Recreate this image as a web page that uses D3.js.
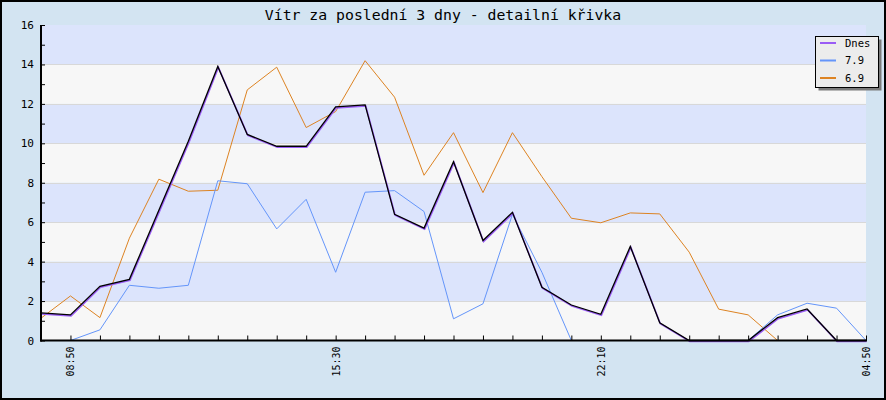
<!DOCTYPE html>
<html><head><meta charset="utf-8">
<script src="https://cdn.jsdelivr.net/npm/d3@7"></script>
<style>body{margin:0;background:#fff}svg{display:block}text{font-family:"DejaVu Sans Mono",monospace}</style>
</head><body>
<svg id="c" width="886" height="400"></svg>
<script>
const title = "Vítr za poslední 3 dny - detailní křivka";
const categories = d3.range(29);
const tickLabels = ["","08:50","","","","","","","","","15:30","","","","","","","","","22:10","","","","","","","","","04:50"];
const seriesNames = ["Dnes","7.9","6.9"];
const dnes = [1.4,1.3,2.75,3.1,6.6,10.1,13.9,10.45,9.85,9.85,11.85,11.95,6.4,5.7,9.07,5.07,6.5,2.7,1.8,1.33,4.77,0.9,0,0,0,1.16,1.6,0,0];
const d79  = [0,0,0.54,2.8,2.65,2.8,8.1,7.95,5.66,7.16,3.46,7.52,7.6,6.54,1.1,1.86,6.4,3.46,0,0,0,0,0,0,0,1.3,1.89,1.64,0];
const d69  = [1.13,2.26,1.16,5.19,8.18,7.57,7.62,12.71,13.86,10.8,11.61,14.19,12.34,8.38,10.54,7.5,10.54,8.31,6.2,5.97,6.47,6.42,4.48,1.59,1.3,0,0,0,0];
const yTicks = [0,2,4,6,8,10,12,14,16];

const W = 886, H = 400;
const L = 41, R = 866, T = 25, B = 340.5;
const svg = d3.select("#c");
svg.append("rect").attr("x",1).attr("y",1).attr("width",W-2).attr("height",H-2)
  .attr("fill","#d3e4f2").attr("stroke","#000").attr("stroke-width",2);

const x = d3.scaleLinear().domain([0, categories.length-1]).range([L, R]);
const y = d3.scaleLinear().domain([0, 16]).range([B, T]);

// bands
const bands = d3.range(0, 16, 2);
svg.append("g").selectAll("rect").data(bands).join("rect")
  .attr("x", L).attr("width", R - L)
  .attr("y", d => y(d + 2)).attr("height", d => y(d) - y(d + 2))
  .attr("fill", d => (d / 2) % 2 === 1 ? "#dce4fc" : "#f7f7f7");
svg.append("rect").attr("x",L).attr("width",R-L).attr("y",y(16)).attr("height",y(14)-y(16)).attr("fill","#dce4fc");
// grid
svg.append("g").selectAll("line").data(yTicks.filter(d => d > 0 && d < 16)).join("line")
  .attr("x1", L).attr("x2", R).attr("y1", d => Math.round(y(d)) + 0.5).attr("y2", d => Math.round(y(d)) + 0.5)
  .attr("stroke", "#d8d8d8").attr("stroke-width", 1);

// title
svg.append("text").attr("x", 443).attr("y", 20).attr("text-anchor","middle")
  .attr("font-size","14.8px").attr("fill","#000").text(title);

// lines
const line = arr => d3.line().x((d,i) => x(categories[i])).y(d => y(d))(arr);
svg.append("path").attr("d", line(d69)).attr("fill","none").attr("stroke","#dd8322").attr("stroke-width",1);
svg.append("path").attr("d", line(d79)).attr("fill","none").attr("stroke","#6495fa").attr("stroke-width",1);
svg.append("path").attr("d", line(dnes)).attr("fill","none").attr("stroke","#9a5cf5").attr("stroke-width",1.6)
  .attr("transform","translate(0.6,1)");
svg.append("path").attr("d", line(dnes)).attr("fill","none").attr("stroke","#000").attr("stroke-width",1.3);

// axes
const yAxis = d3.axisLeft(y).tickValues(d3.range(0,17,1)).tickSize(-4).tickPadding(7)
  .tickFormat(d => yTicks.includes(d) ? d : "");
const gy = svg.append("g").attr("transform", `translate(${L},0)`).call(yAxis);
gy.select(".domain").remove();
gy.selectAll(".tick line").attr("stroke","#000");
gy.selectAll("text").attr("font-size","11px").attr("font-family","DejaVu Sans Mono").attr("fill","#000");
svg.append("line").attr("x1",L).attr("x2",L).attr("y1",T).attr("y2",B+1).attr("stroke","#000").attr("stroke-width",2);

const xAxis = d3.axisBottom(x).tickValues(categories).tickSize(-5).tickFormat(d => tickLabels[d]);
const gx = svg.append("g").attr("transform", `translate(0,${B})`).call(xAxis);
gx.select(".domain").remove();
gx.selectAll(".tick line").attr("stroke","#000");
gx.selectAll("text").attr("font-size","10px").attr("font-family","DejaVu Sans Mono").attr("fill","#000")
  .attr("transform","rotate(-90)").attr("text-anchor","end").attr("x",-6).attr("y",0).attr("dy","0.35em");
svg.append("line").attr("x1",L-1).attr("x2",R+1).attr("y1",B).attr("y2",B).attr("stroke","#000").attr("stroke-width",2);

// legend
const colors = ["#9a5cf5","#6495fa","#dd8322"];
const lg = svg.append("g");
lg.append("rect").attr("x",818.5).attr("y",39.5).attr("width",63).attr("height",51).attr("fill","#7a7a7a");
lg.append("rect").attr("x",815.5).attr("y",36.5).attr("width",63).attr("height",51).attr("fill","#ececec").attr("stroke","#000");
seriesNames.forEach((n,i) => {
  const yy = 43 + i*17.5;
  lg.append("line").attr("x1",820).attr("x2",836).attr("y1",yy).attr("y2",yy).attr("stroke",colors[i]).attr("stroke-width",2);
  lg.append("text").attr("x",845).attr("y",yy).attr("dy","0.35em").attr("font-size","10.5px").attr("fill","#000").text(n);
});
</script>
</body></html>
